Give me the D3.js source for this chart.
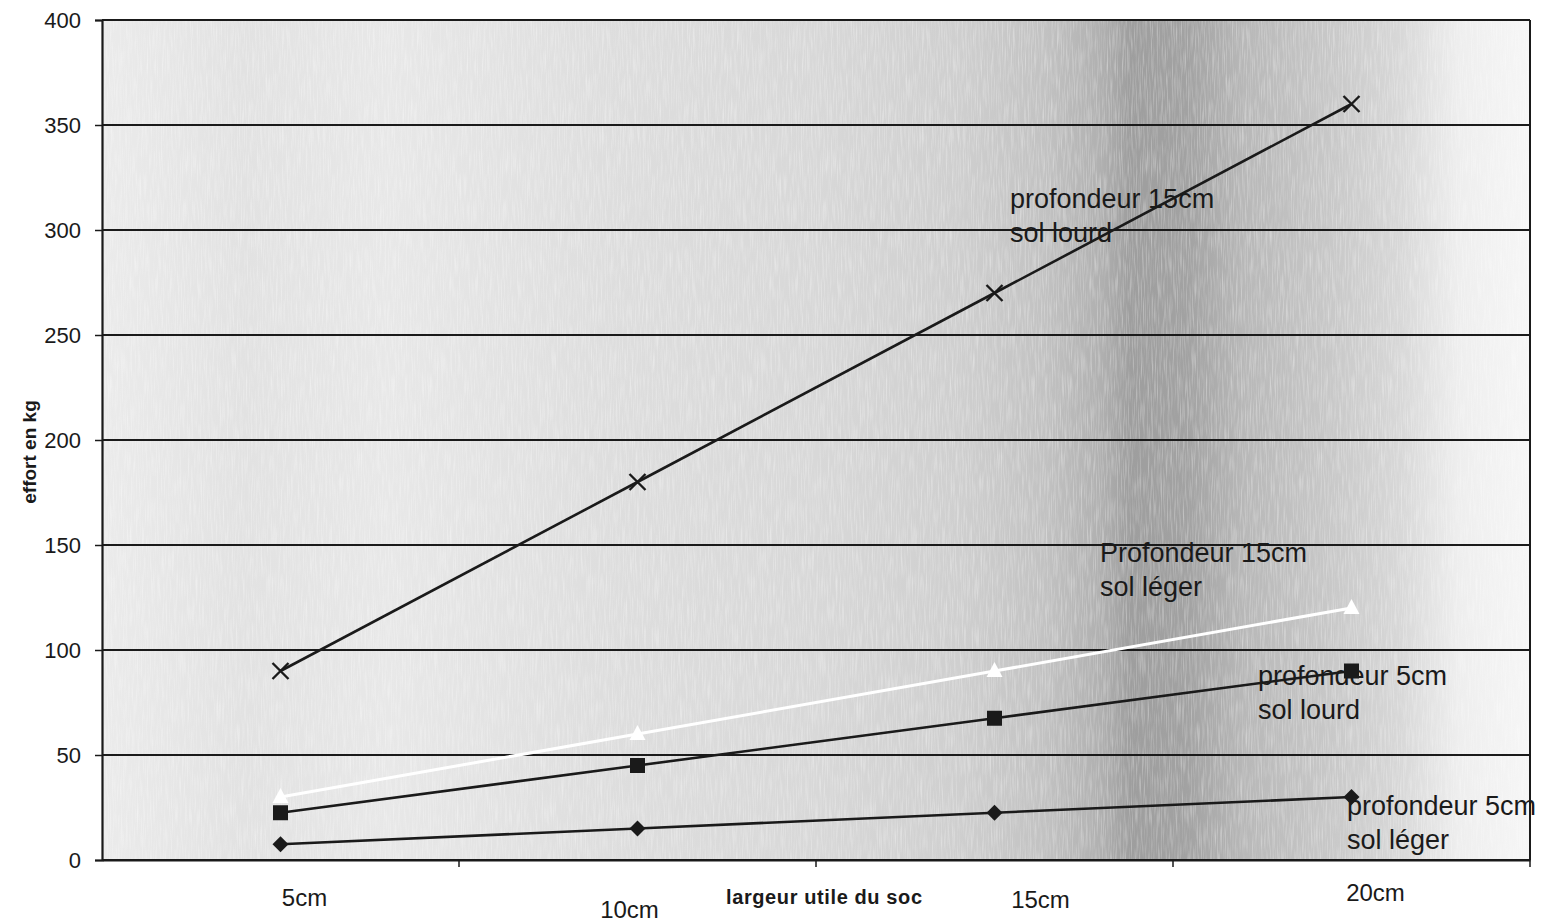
<!DOCTYPE html>
<html><head><meta charset="utf-8">
<script src="https://cdn.jsdelivr.net/npm/d3@7"></script>
<style>html,body{margin:0;padding:0;background:#fff;}svg{display:block;font-family:Arial,"Liberation Sans",sans-serif;}</style>
</head><body>
<svg id="c" width="1543" height="923"></svg>
<script>
const categories = ["5cm", "10cm", "15cm", "20cm"];
const yTicks = [0, 50, 100, 150, 200, 250, 300, 350, 400];
const p15Lourd = [90, 180, 270, 360];
const p15Leger = [30, 60, 90, 120];
const p5Lourd = [22.5, 45, 67.5, 90];
const p5Leger = [7.5, 15, 22.5, 30];
const seriesNames = ["profondeur 15cm|sol lourd", "Profondeur 15cm|sol léger", "profondeur 5cm|sol lourd", "profondeur 5cm|sol léger"];
const xTitle = "largeur utile du soc";
const yTitle = "effort en kg";

const svg = d3.select("#c");
const L = 102, R = 1530, T = 20, B = 860;
const x = d3.scaleBand().domain(categories).range([L, R]);
const y = d3.scaleLinear().domain([0, 400]).range([B, T]);

// background (scan-like grey)
const defs = svg.append("defs");
const g = defs.append("linearGradient").attr("id", "bg").attr("x1", "0").attr("x2", "1").attr("y1", "0").attr("y2", "0");
[[0, "#ebebeb"], [0.1, "#e2e2e2"], [0.2, "#e8e8e8"], [0.35, "#dedede"], [0.5, "#d8d8d8"], [0.6, "#cfcfcf"], [0.66, "#c2c2c2"], [0.7, "#b0b0b0"], [0.72, "#9e9e9e"], [0.76, "#a2a2a2"], [0.8, "#b8b8b8"], [0.86, "#c8c8c8"], [0.91, "#d8d8d8"], [0.95, "#eeeeee"], [1, "#f6f6f6"]]
  .forEach(([o, c]) => g.append("stop").attr("offset", o).attr("stop-color", c));
const f = defs.append("filter").attr("id", "grain").attr("x", 0).attr("y", 0).attr("width", 1).attr("height", 1);
f.append("feTurbulence").attr("type", "fractalNoise").attr("baseFrequency", "0.8 0.04").attr("numOctaves", 2).attr("seed", 3).attr("result", "n");
f.append("feColorMatrix").attr("in", "n").attr("type", "matrix")
  .attr("values", "0 0 0 0 1  0 0 0 0 1  0 0 0 0 1  0 0 0 -2.2 1.25");

svg.append("rect").attr("x", L).attr("y", T).attr("width", R - L).attr("height", B - T).attr("fill", "url(#bg)");
svg.append("rect").attr("x", L).attr("y", T).attr("width", R - L).attr("height", B - T).attr("fill", "#fff").attr("opacity", 0.35).attr("filter", "url(#grain)");

// gridlines
svg.append("g").selectAll("line").data(yTicks).join("line")
  .attr("x1", L).attr("x2", R).attr("y1", d => y(d)).attr("y2", d => y(d))
  .attr("stroke", "#1a1a1a").attr("stroke-width", 2);
svg.append("line").attr("x1", R).attr("x2", R).attr("y1", T).attr("y2", B).attr("stroke", "#1a1a1a").attr("stroke-width", 2);

// y axis
const ya = svg.append("g").attr("transform", `translate(${L},0)`)
  .call(d3.axisLeft(y).tickValues(yTicks).tickSize(7).tickPadding(14));
ya.select(".domain").attr("stroke", "#1a1a1a").attr("stroke-width", 2.2);
ya.selectAll(".tick line").attr("stroke", "#1a1a1a").attr("stroke-width", 1.5);
ya.selectAll(".tick text").attr("font-size", 22).attr("fill", "#1a1a1a").attr("font-family", "Arial, 'Liberation Sans', sans-serif");

// x axis
const labelShift = [24, -8, 46, 24];
const labelDrop = [0, 12, 2, -5];
const xa = svg.append("g").attr("transform", `translate(0,${B})`)
  .call(d3.axisBottom(x).tickSize(0).tickPadding(36));
xa.select(".domain").attr("stroke", "#1a1a1a").attr("stroke-width", 2.2);
xa.selectAll(".tick text").attr("font-size", 24).attr("fill", "#1a1a1a").attr("font-family", "Arial, 'Liberation Sans', sans-serif")
  .attr("dx", (d, i) => labelShift[i]).attr("dy", (d, i) => (labelDrop[i] / 24 + 0.4) + "em");
// tick marks between categories
svg.append("g").selectAll("line").data(categories).join("line")
  .attr("x1", d => x(d) + x.bandwidth()).attr("x2", d => x(d) + x.bandwidth())
  .attr("y1", B).attr("y2", B + 7).attr("stroke", "#1a1a1a").attr("stroke-width", 1.5);

// titles
svg.append("text").attr("x", (L + R) / 2 + 8).attr("y", B + 44).attr("text-anchor", "middle")
  .attr("font-size", 20).attr("font-weight", "bold").attr("fill", "#1a1a1a").attr("textLength", 196).text(xTitle);
svg.append("text").attr("transform", `translate(36,${(T + B) / 2 + 12}) rotate(-90)`).attr("text-anchor", "middle")
  .attr("font-size", 19).attr("font-weight", "bold").attr("fill", "#1a1a1a").text(yTitle);

const cx = c => x(c) + x.bandwidth() / 2;
const line = d3.line().x((d, i) => cx(categories[i])).y(d => y(d));
const series = [
  { v: p15Lourd, color: "#1a1a1a", m: "x" },
  { v: p15Leger, color: "#ffffff", m: "tri" },
  { v: p5Lourd, color: "#1a1a1a", m: "sq" },
  { v: p5Leger, color: "#1a1a1a", m: "dia" }
];
series.forEach(s => {
  svg.append("path").datum(s.v).attr("d", line).attr("fill", "none")
    .attr("stroke", s.color).attr("stroke-width", s.color === "#ffffff" ? 3 : 2.6);
  const mg = svg.append("g");
  s.v.forEach((v, i) => {
    const px = cx(categories[i]), py = y(v);
    if (s.m === "x") {
      mg.append("path").attr("d", `M${px - 8},${py - 8}L${px + 8},${py + 8}M${px - 8},${py + 8}L${px + 8},${py - 8}`)
        .attr("stroke", s.color).attr("stroke-width", 2.4);
    } else if (s.m === "sq") {
      mg.append("rect").attr("x", px - 7.5).attr("y", py - 7.5).attr("width", 15).attr("height", 15).attr("fill", s.color);
    } else if (s.m === "dia") {
      mg.append("path").attr("d", `M${px},${py - 8}L${px + 8},${py}L${px},${py + 8}L${px - 8},${py}Z`).attr("fill", s.color);
    } else {
      mg.append("path").attr("d", `M${px},${py - 9}L${px + 8},${py + 6}L${px - 8},${py + 6}Z`).attr("fill", s.color);
    }
  });
});

// series labels (placed beside the lines, as in the source)
const labelX = [1010, 1100, 1258, 1347];
const labelY = [208, 562, 685, 815];
seriesNames.forEach((name, k) => {
  const parts = name.split("|");
  const t = svg.append("text").attr("x", labelX[k]).attr("y", labelY[k])
    .attr("font-size", 27).attr("fill", "#1a1a1a");
  t.append("tspan").attr("x", labelX[k]).attr("dy", 0).text(parts[0]);
  t.append("tspan").attr("x", labelX[k]).attr("dy", 34).text(parts[1]);
});
</script>
</body></html>
